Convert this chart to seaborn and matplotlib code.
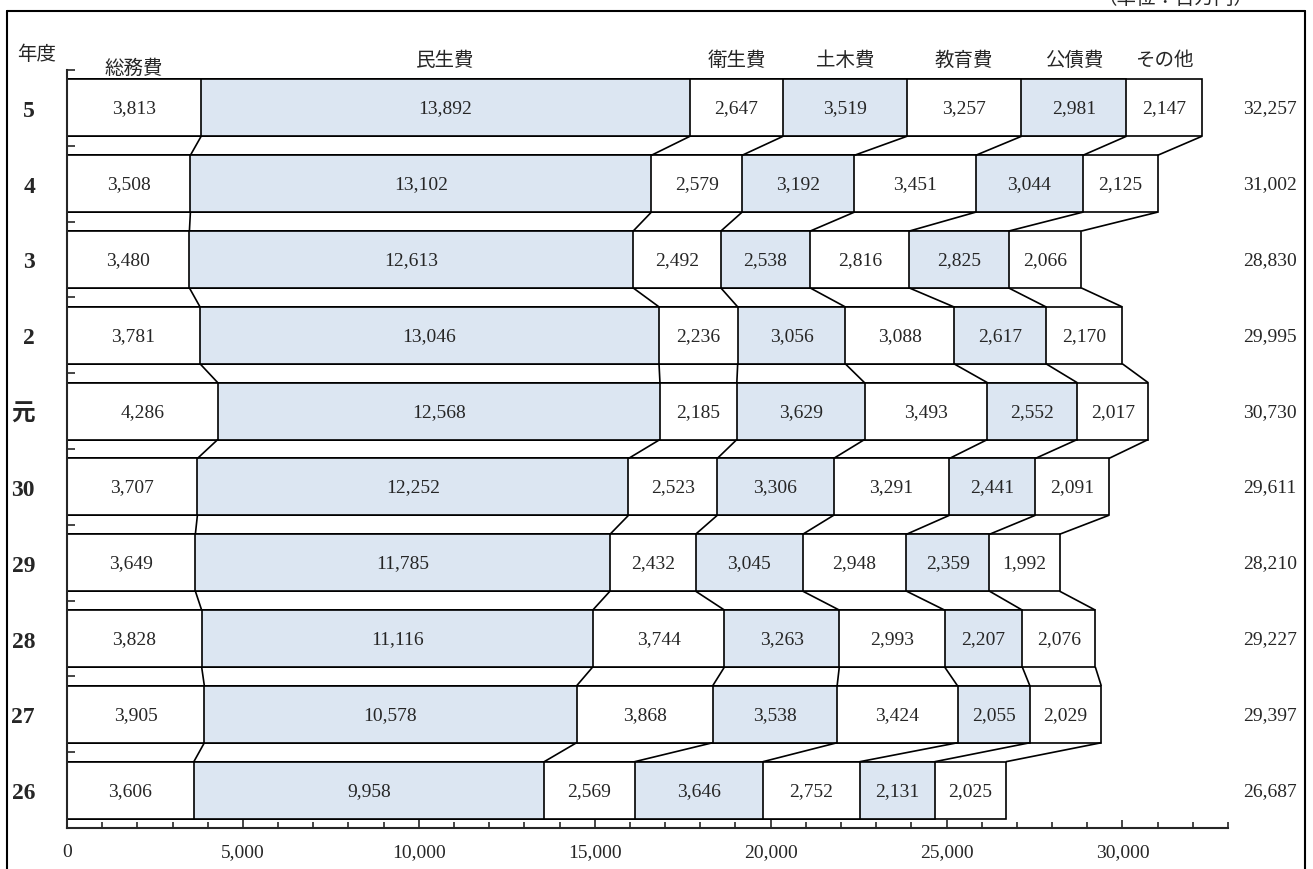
import numpy as np
import pandas as pd
import seaborn as sns
import matplotlib.pyplot as plt
from matplotlib.lines import Line2D
from matplotlib.ticker import FixedLocator, MultipleLocator, FuncFormatter

# Fiscal years (top to bottom) and expenditure categories
years = ['5', '4', '3', '2', '元', '30', '29', '28', '27', '26']
categories = ['総務費', '民生費', '衛生費', '土木費', '教育費', '公債費', 'その他']

# Values per category (millions of yen), same order as years
somu = [3813, 3508, 3480, 3781, 4286, 3707, 3649, 3828, 3905, 3606]
minsei = [13892, 13102, 12613, 13046, 12568, 12252, 11785, 11116, 10578, 9958]
eisei = [2647, 2579, 2492, 2236, 2185, 2523, 2432, 3744, 3868, 2569]
doboku = [3519, 3192, 2538, 3056, 3629, 3306, 3045, 3263, 3538, 3646]
kyoiku = [3257, 3451, 2816, 3088, 3493, 3291, 2948, 2993, 3424, 2752]
kosai = [2981, 3044, 2825, 2617, 2552, 2441, 2359, 2207, 2055, 2131]
sonota = [2147, 2125, 2066, 2170, 2017, 2091, 1992, 2076, 2029, 2025]
totals = [32257, 31002, 28830, 29995, 30730, 29611, 28210, 29227, 29397, 26687]

values = np.array([somu, minsei, eisei, doboku, kyoiku, kosai, sonota]).T
cum = values.cumsum(axis=1)

blue = '#dce6f2'
fills = ['white', blue, 'white', blue, 'white', blue, 'white']

sns.set_style('ticks')
plt.rcParams['font.family'] = ['Noto Sans CJK JP', 'DejaVu Sans']
serif = ['Liberation Serif', 'Noto Sans CJK JP']

fig = plt.figure(figsize=(13.13, 8.7), dpi=100)
ax = fig.add_axes([0.051, 0.0471, 0.8843, 0.8713])

# stacked bars: draw cumulative bars from the widest down
bar_h = 0.75
for j in reversed(range(len(categories))):
    d = pd.DataFrame({'year': years, 'end': cum[:, j]})
    sns.barplot(data=d, x='end', y='year', order=years, orient='h',
                color=fills[j], saturation=1, edgecolor='black',
                linewidth=1.2, width=bar_h, errorbar=None, ax=ax)

ax.set_xlim(0, 33000)
ax.set_ylim(9.5, -0.5)
ax.set_xlabel('')
ax.set_ylabel('')

# connector lines between neighbouring bars
half = bar_h / 2
for r in range(len(years) - 1):
    for j in range(len(categories)):
        ax.plot([cum[r, j], cum[r + 1, j]], [r + half, r + 1 - half],
                color='black', lw=1.2, solid_capstyle='butt')

# value labels
for r in range(len(years)):
    for j in range(len(categories)):
        v = values[r, j]
        ax.text(cum[r, j] - v / 2, r, f'{v:,}', ha='center', va='center',
                fontsize=14, family=serif)
    ax.text(34950, r, f'{totals[r]:,}', ha='right', va='center',
            fontsize=14, family=serif, clip_on=False)

# category headers over the top bar
for j, cat in enumerate(categories):
    y = -0.54 if j == 0 else -0.645
    ax.text(cum[0, j] - values[0, j] / 2, y, cat, ha='center', va='center',
            fontsize=14)
ax.text(-850, -0.72, '年度', ha='center', va='center', fontsize=14)

# axes styling
ax.set_yticks(range(len(years)))
ax.set_yticklabels(years, fontsize=17, fontweight='bold', family=serif)
ax.set_yticks(np.arange(-0.5, 9, 1), minor=True)
ax.tick_params(axis='y', which='major', length=0, pad=23)
ax.tick_params(axis='y', which='minor', direction='in', length=6, width=1.2)

ax.xaxis.set_major_locator(FixedLocator(range(0, 30001, 5000)))
ax.xaxis.set_minor_locator(MultipleLocator(1000))
ax.xaxis.set_major_formatter(FuncFormatter(lambda x, p: f'{int(x):,}'))
ax.tick_params(axis='x', which='major', direction='in', length=6, width=1.2,
               pad=11, labelsize=14)
ax.tick_params(axis='x', which='minor', direction='in', length=4, width=1.2)
for lab in ax.get_xticklabels():
    lab.set_family(serif)

sns.despine(ax=ax, top=True, right=True)
ax.spines['left'].set_linewidth(1.5)
ax.spines['bottom'].set_linewidth(1.5)

# outer frame and clipped unit note
for xs, ys in [([0.0053, 0.0053], [0, 0.986]), ([0.0053, 0.9939], [0.986, 0.986]),
               ([0.9939, 0.9939], [0, 0.986])]:
    fig.add_artist(Line2D(xs, ys, color='black', lw=1.5, transform=fig.transFigure))
fig.text(0.895, 0.9955, '（単位：百万円）', ha='center', va='baseline', fontsize=14)

fig.savefig('out.png', dpi=100)
plt.close()
